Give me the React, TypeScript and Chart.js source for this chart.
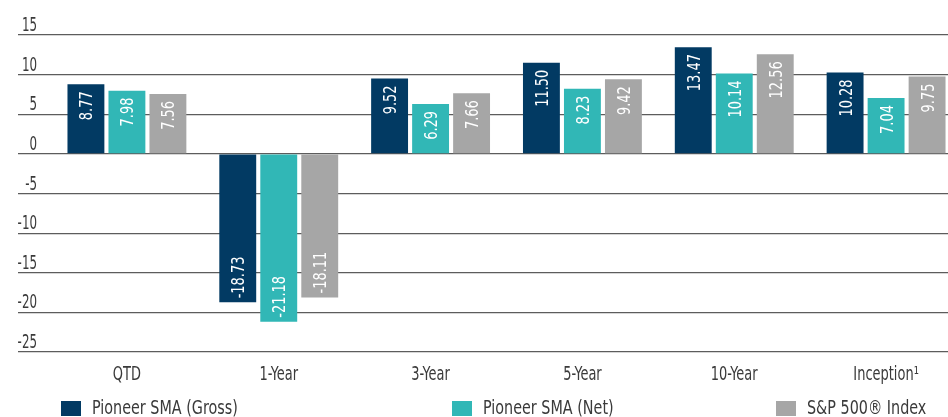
import React, { useEffect, useRef } from "react";
import { Chart, registerables } from "chart.js";

Chart.register(...registerables);

const FONT = "'Liberation Sans Narrow', 'DejaVu Sans Condensed', 'Arial Narrow', sans-serif";

const categories = ["QTD", "1-Year", "3-Year", "5-Year", "10-Year", "Inception\u00B9"];
const seriesNames = ["Pioneer SMA (Gross)", "Pioneer SMA (Net)", "S&P 500\u00AE Index"];
const grossValues = [8.77, -18.73, 9.52, 11.5, 13.47, 10.28];
const netValues = [7.98, -21.18, 6.29, 8.23, 10.14, 7.04];
const spValues = [7.56, -18.11, 7.66, 9.42, 12.56, 9.75];
const yTicks = [15, 10, 5, 0, -5, -10, -15, -20, -25];

const COLORS = ["#023a63", "#31b7b6", "#a6a6a6"];
const GRID = "#5c5c5c";
const TEXT = "#3a3a3a";

function drawCondensed(ctx: any, text: string, x: number, y: number, align: string, sx: number) {
  ctx.save();
  ctx.translate(x, y);
  ctx.scale(sx, 1);
  ctx.textAlign = align;
  ctx.fillText(text, 0, 0);
  ctx.restore();
}

const valueLabels = {
  id: "valueLabels",
  afterDatasetsDraw(chart: any) {
    const ctx = chart.ctx;
    ctx.save();
    ctx.fillStyle = "#ffffff";
    ctx.font = `18px ${FONT}`;
    ctx.textBaseline = "alphabetic";
    chart.data.datasets.forEach((ds: any, di: number) => {
      const meta = chart.getDatasetMeta(di);
      meta.data.forEach((bar: any, i: number) => {
        const v = ds.data[i];
        const txt = v.toFixed(2);
        ctx.save();
        if (v >= 0) {
          ctx.translate(bar.x, bar.y + 7);
          ctx.rotate(-Math.PI / 2);
          ctx.scale(0.8, 1);
          ctx.textAlign = "right";
        } else {
          ctx.translate(bar.x, bar.y - 4);
          ctx.rotate(-Math.PI / 2);
          ctx.scale(0.8, 1);
          ctx.textAlign = "left";
        }
        ctx.fillText(txt, 0, 6.5);
        ctx.restore();
      });
    });
    ctx.restore();
  },
};

const axisText = {
  id: "axisText",
  afterDraw(chart: any) {
    const ctx = chart.ctx;
    const xs = chart.scales.x;
    const ys = chart.scales.y;
    ctx.save();
    ctx.fillStyle = TEXT;
    ctx.textBaseline = "alphabetic";
    ctx.font = `20px ${FONT}`;
    ys.ticks.forEach((t: any) => {
      const py = ys.getPixelForValue(t.value);
      drawCondensed(ctx, String(t.value), 37, py - 4, "right", 0.66);
    });
    ctx.font = `19px ${FONT}`;
    xs.ticks.forEach((t: any, i: number) => {
      const px = xs.getPixelForTick(i);
      drawCondensed(ctx, xs.getLabelForValue(t.value), px, xs.top + 28, "center", 0.76);
    });
    ctx.restore();
  },
};

const spreadLegend = {
  id: "spreadLegend",
  afterDraw(chart: any, _args: any, opts: any) {
    const ctx = chart.ctx;
    const xs: number[] = opts.xs;
    ctx.save();
    ctx.font = `19px ${FONT}`;
    ctx.textBaseline = "alphabetic";
    chart.data.datasets.forEach((ds: any, i: number) => {
      const x = xs[i];
      ctx.fillStyle = ds.backgroundColor;
      ctx.fillRect(x, opts.boxTop, opts.boxW, opts.boxH);
      ctx.fillStyle = TEXT;
      drawCondensed(ctx, ds.label, x + opts.boxW + 11, opts.baseline, "left", 0.84);
    });
    ctx.restore();
  },
};

export default function App() {
  const ref = useRef<HTMLCanvasElement | null>(null);

  useEffect(() => {
    if (!ref.current) return;
    const values = [grossValues, netValues, spValues];
    const chart = new Chart(ref.current, {
      type: "bar",
      data: {
        labels: categories,
        datasets: seriesNames.map((name, i) => ({
          label: name,
          data: values[i],
          backgroundColor: COLORS[i],
          borderWidth: 0,
          categoryPercentage: 0.81,
          barPercentage: 0.9,
        })),
      },
      options: {
        animation: false,
        responsive: true,
        maintainAspectRatio: false,
        layout: { padding: { left: 0, top: 35, right: 0, bottom: 37 } },
        plugins: {
          legend: { display: false },
          tooltip: { enabled: false },
          spreadLegend: { xs: [61, 452, 776], boxTop: 401, boxW: 20, boxH: 15, baseline: 414 },
        } as any,
        scales: {
          x: {
            grid: { display: false, drawTicks: false },
            border: { display: false },
            ticks: { display: false },
            afterFit: (s: any) => {
              s.height = 28;
            },
          },
          y: {
            min: -25,
            max: 15,
            afterBuildTicks: (s: any) => {
              s.ticks = yTicks.map((v) => ({ value: v }));
            },
            grid: {
              color: GRID,
              lineWidth: 1.2,
              tickLength: 33,
              tickColor: GRID,
              tickWidth: 1.2,
              drawTicks: true,
            },
            border: { display: false },
            ticks: { display: false },
            afterFit: (s: any) => {
              s.width = 51;
            },
          },
        },
      },
      plugins: [valueLabels, axisText, spreadLegend],
    });
    return () => chart.destroy();
  }, []);

  return (
    <div style={{ position: "fixed", left: 0, top: 0, width: 948, height: 417, overflow: "hidden", background: "#fff" }}>
      <div style={{ position: "relative", width: 962, height: 417 }}>
        <canvas ref={ref} />
      </div>
    </div>
  );
}
